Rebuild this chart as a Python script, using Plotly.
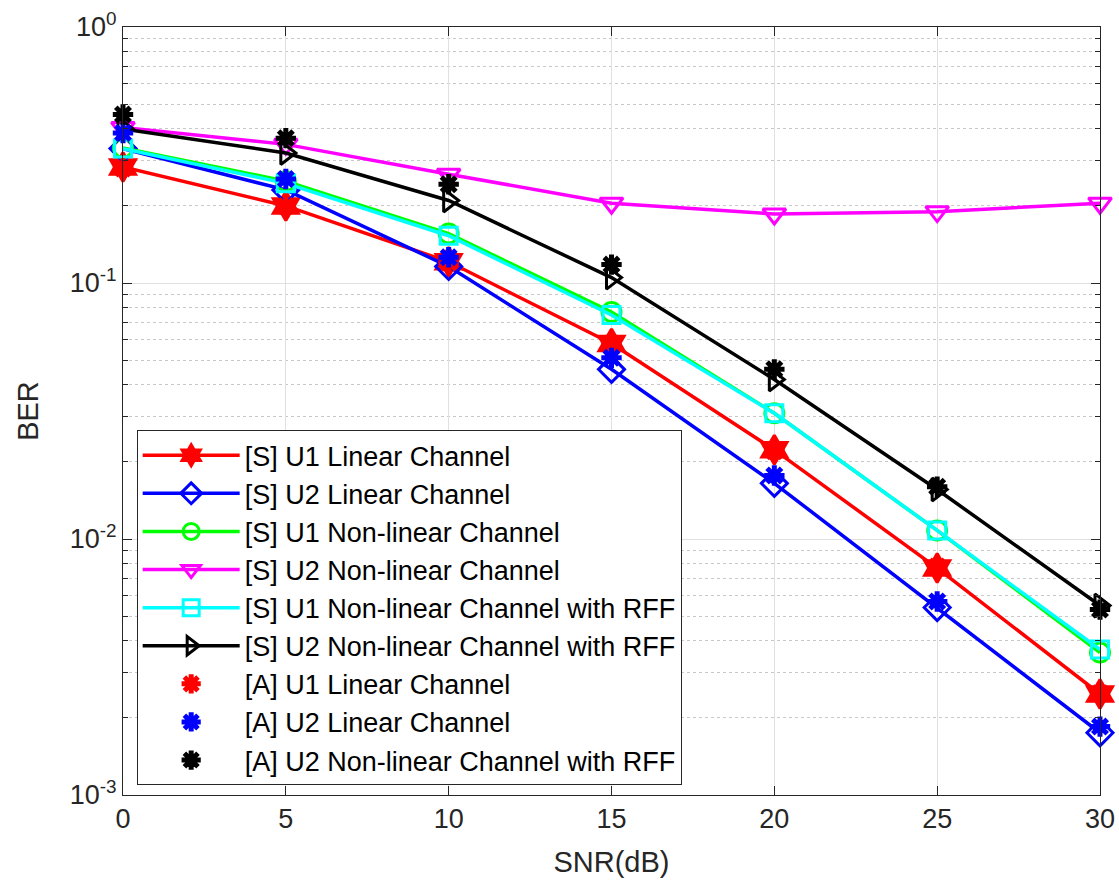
import plotly.graph_objects as go

snr = [0, 5, 10, 15, 20, 25, 30]

s_u1_lin = [0.284, 0.200, 0.121, 0.058, 0.0223, 0.0077, 0.00248]
s_u2_lin = [0.335, 0.231, 0.116, 0.046, 0.0165, 0.0054, 0.00175]
s_u1_nl = [0.337, 0.250, 0.156, 0.077, 0.031, 0.0108, 0.0036]
s_u2_nl = [0.405, 0.348, 0.266, 0.205, 0.186, 0.190, 0.205]
s_u1_rff = [0.335, 0.245, 0.153, 0.075, 0.031, 0.0108, 0.0037]
s_u2_rff = [0.400, 0.322, 0.210, 0.105, 0.042, 0.0156, 0.0055]

a_u1_lin = [0.280, 0.200, 0.120, 0.058, 0.022, 0.0078, 0.0025]
a_u2_lin = [0.385, 0.255, 0.126, 0.051, 0.0177, 0.0057, 0.00185]
a_u2_rff = [0.455, 0.368, 0.243, 0.118, 0.046, 0.0160, 0.0053]

ytickvals = [1e-3, 1e-2, 1e-1, 1]
yticktext = ["10<sup>-3</sup>", "10<sup>-2</sup>", "10<sup>-1</sup>", "10<sup>0</sup>"]

fig = go.Figure()

sim = [
    ("[S] U1 Linear Channel", s_u1_lin, "#ff0000", "hexagram", 22),
    ("[S] U2 Linear Channel", s_u2_lin, "#0000ff", "diamond-open", 20),
    ("[S] U1 Non-linear Channel", s_u1_nl, "#00ff00", "circle-open", 19),
    ("[S] U2 Non-linear Channel", s_u2_nl, "#ff00ff", "triangle-down-open", 20),
    ("[S] U1 Non-linear Channel with RFF", s_u1_rff, "#00ffff", "square-open", 17),
    ("[S] U2 Non-linear Channel with RFF", s_u2_rff, "#000000", "triangle-right-open", 20),
]
for i, (name, ys, col, sym, sz) in enumerate(sim):
    fig.add_trace(go.Scatter(
        x=snr, y=ys, name=name, mode="lines+markers", legendgroup=f"g{i}",
        line=dict(color=col, width=3.5), cliponaxis=False,
        marker=dict(symbol=sym, size=sz, color=col, line=dict(color=col, width=3)),
    ))

ana = [
    ("[A] U1 Linear Channel", a_u1_lin, "#ff0000"),
    ("[A] U2 Linear Channel", a_u2_lin, "#0000ff"),
    ("[A] U2 Non-linear Channel with RFF", a_u2_rff, "#000000"),
]
for i, (name, ys, col) in enumerate(ana):
    fig.add_trace(go.Scatter(
        x=snr, y=ys, name=name, mode="markers", legendgroup=f"a{i}", cliponaxis=False,
        marker=dict(symbol="asterisk-open", size=17, color=col, line=dict(color=col, width=5)),
    ))

axis_common = dict(
    showline=True, linecolor="#262626", linewidth=1, mirror="ticks",
    ticks="inside", ticklen=9, tickcolor="#262626",
    showgrid=True, gridcolor="#e0e0e0", gridwidth=1,
    zeroline=False, automargin=False,
    tickfont=dict(size=27, color="#262626"),
)

fig.update_xaxes(
    range=[0, 30], tickvals=snr, ticktext=[str(v) for v in snr],
    title=dict(text="SNR(dB)", font=dict(size=29, color="#262626"), standoff=18),
    **axis_common,
)
fig.update_yaxes(
    type="log", range=[-3, 0], tickvals=ytickvals, ticktext=yticktext,
    title=dict(text="BER", font=dict(size=29, color="#262626"), standoff=22),
    minor=dict(showgrid=True, gridcolor="#c8c8c8", griddash="dot", ticks="inside",
               ticklen=5, tickcolor="#262626",
               tickvals=[k * 10 ** e for e in (-3, -2, -1) for k in range(2, 10)]),
    **axis_common,
)

fig.update_layout(
    width=1119, height=890,
    margin=dict(l=123, r=19, t=27, b=95),
    paper_bgcolor="white", plot_bgcolor="white",
    font=dict(family="Liberation Sans, Arial, sans-serif", color="#262626"),
    legend=dict(
        x=0.014, y=0.475, xanchor="left", yanchor="top",
        bgcolor="white", bordercolor="#262626", borderwidth=1,
        font=dict(size=27, color="#000000"),
        itemwidth=97, tracegroupgap=0, traceorder="grouped",
    ),
    showlegend=True,
)

fig.write_html("out.html", config={"displayModeBar": False},
               post_script="document.body.style.margin='0';")
